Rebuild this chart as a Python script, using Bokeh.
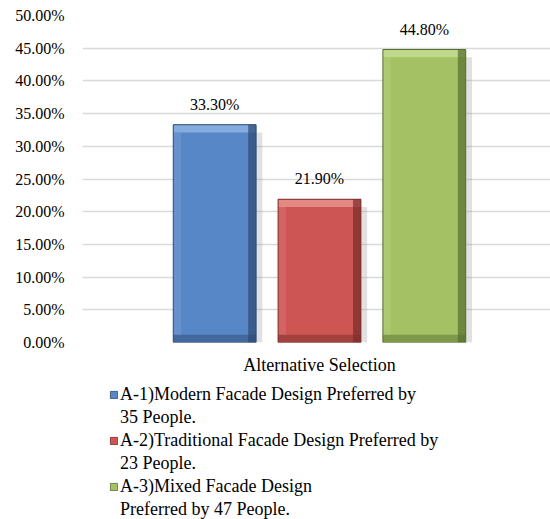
from bokeh.plotting import figure
from bokeh.layouts import column
from bokeh.models import (ColumnDataSource, Range1d, NumeralTickFormatter, FixedTicker,
                          LabelSet, Legend, LegendItem)
from bokeh.core.properties import value
from bokeh.embed import file_html
from bokeh.resources import INLINE

# ---- data ----
category = "Alternative Selection"
series = ["A-1)Modern Facade Design Preferred by\n35 People.",
          "A-2)Traditional Facade Design Preferred by\n23 People.",
          "A-3)Mixed Facade Design\nPreferred by 47 People."]
values = [0.333, 0.219, 0.448]
colors = ["#5887C7", "#CD5654", "#A4C263"]
light_colors = ["#8DB3E2", "#E8908E", "#C6DC92"]
dark_colors = ["#2C4A74", "#792B29", "#566D2F"]
y_ticks = [0, 0.05, 0.10, 0.15, 0.20, 0.25, 0.30, 0.35, 0.40, 0.45, 0.50]

FONT = "'Liberation Serif', 'Times New Roman', serif"
NUM_SIZE = "16px"
TXT_SIZE = "18px"

offsets = [-1.0, 0.0, 1.0]
W = 0.79          # bar width (category units)
BX = 0.075        # bevel thickness, x
BY = 0.012        # bevel thickness, y

src = ColumnDataSource(dict(
    x=offsets, top=values, color=colors, light=light_colors, dark=dark_colors,
    label=["%.2f%%" % (v * 100) for v in values],
))
# bevel / shadow pieces derived from the same data
bev = ColumnDataSource(dict(
    l=[o - W / 2 for o in offsets], r=[o + W / 2 for o in offsets],
    li=[o - W / 2 + BX for o in offsets], ri=[o + W / 2 - BX for o in offsets],
    t=values, ti=[v - BY for v in values], b=[0] * 3, bi=[BY] * 3,
    sh_r=[o + W / 2 + 0.06 for o in offsets], sh_t=[v - 0.012 for v in values],
    light=light_colors, dark=dark_colors,
))

p = figure(width=550, height=378, output_backend="svg", toolbar_location=None,
           x_range=Range1d(-2.261, 2.204), y_range=Range1d(0, 0.5),
           min_border_left=82, min_border_right=0, min_border_top=15,
           min_border_bottom=36)
p.outline_line_color = None
p.background_fill_color = "white"
p.border_fill_color = "white"

# soft shadow at the right of each bar
p.quad(left="r", right="sh_r", top="sh_t", bottom="b", source=bev,
       fill_color="#9A9A9A", fill_alpha=0.3, line_color=None)
bars = p.vbar(x="x", top="top", width=W, bottom=0, source=src,
              fill_color="color", line_color=None)
# bevel: top light, right dark, bottom dark, left slightly light
p.quad(left="l", right="r", top="t", bottom="ti", source=bev,
       fill_color="light", fill_alpha=0.85, line_color=None)
p.quad(left="ri", right="r", top="t", bottom="b", source=bev,
       fill_color="dark", fill_alpha=0.7, line_color=None)
p.quad(left="l", right="r", top="bi", bottom="b", source=bev,
       fill_color="dark", fill_alpha=0.5, line_color=None)
p.quad(left="l", right="li", top="ti", bottom="bi", source=bev,
       fill_color="light", fill_alpha=0.25, line_color=None)
p.vbar(x="x", top="top", width=W, bottom=0, source=src,
       fill_alpha=0, line_color="dark", line_width=1)

labels = LabelSet(x="x", y="top", text="label", source=src, text_align="center",
                  text_baseline="alphabetic", y_offset=15, text_font=value(FONT),
                  text_font_size=NUM_SIZE, text_color="#000000")
p.add_layout(labels)

# axes
p.yaxis.ticker = FixedTicker(ticks=y_ticks)
p.yaxis.formatter = NumeralTickFormatter(format="0.00%")
p.yaxis.axis_line_color = None
p.yaxis.major_tick_line_color = None
p.yaxis.minor_tick_line_color = None
p.yaxis.major_tick_in = 0
p.yaxis.major_tick_out = 0
p.yaxis.major_label_standoff = 18
p.yaxis.major_label_text_font = FONT
p.yaxis.major_label_text_font_size = NUM_SIZE
p.yaxis.major_label_text_color = "#000000"

p.xaxis.ticker = FixedTicker(ticks=[0])
p.xaxis.major_label_overrides = {0: category}
p.xaxis.axis_line_color = None
p.xaxis.major_tick_line_color = None
p.xaxis.minor_tick_line_color = None
p.xaxis.major_tick_in = 0
p.xaxis.major_tick_out = 0
p.xaxis.major_label_standoff = 12
p.xaxis.major_label_text_font = FONT
p.xaxis.major_label_text_font_size = TXT_SIZE
p.xaxis.major_label_text_color = "#000000"

p.xgrid.grid_line_color = None
p.ygrid.ticker = FixedTicker(ticks=y_ticks)
p.ygrid.grid_line_color = "#D9D9D9"
p.ygrid.grid_line_width = 1.5

# ---- legend panel (below the chart); its glyph renderers lie outside its ranges ----
lg = figure(width=550, height=141, output_backend="svg", toolbar_location=None,
            x_range=Range1d(10, 11), y_range=Range1d(10, 11),
            x_axis_location=None, y_axis_location=None,
            min_border_left=0, min_border_right=0, min_border_top=0,
            min_border_bottom=0)
lg.outline_line_color = None
lg.xgrid.grid_line_color = None
lg.ygrid.grid_line_color = None
lg_bars = lg.vbar(x="x", top="top", width=W, bottom=0, source=src,
                  fill_color="color", line_color="dark", line_width=0.8)
lg_blank = lg.vbar(x="x", top="top", width=W, bottom=0, source=src,
                   fill_alpha=0, line_alpha=0)

items = []
for i, s in enumerate(series):
    first, second = s.split("\n")
    items.append(LegendItem(label=first, renderers=[lg_bars], index=i))
    items.append(LegendItem(label=second, renderers=[lg_blank], index=i))

legend = Legend(items=items, location=(27, -1), orientation="vertical",
                label_text_font=FONT, label_text_font_size=TXT_SIZE,
                label_text_color="#000000", glyph_width=9, glyph_height=9,
                label_standoff=2, spacing=2, padding=0, margin=0,
                border_line_color=None, background_fill_alpha=0,
                label_height=20, label_text_baseline="middle")
lg.add_layout(legend, "center")

layout = column(p, lg, spacing=0)
open("out.html", "w").write(file_html(layout, INLINE))
